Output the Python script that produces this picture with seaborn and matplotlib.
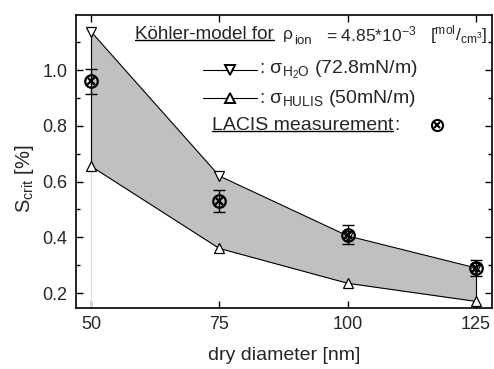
import numpy as np
import pandas as pd
import seaborn as sns
import matplotlib
matplotlib.use("Agg")
from matplotlib import pyplot as plt
from matplotlib.ticker import MultipleLocator, FormatStrFormatter

# Data
diameter = [50, 75, 100, 125]
s_h2o = [1.138, 0.62, 0.405, 0.29]
s_hulis = [0.655, 0.36, 0.235, 0.17]
lacis = [0.96, 0.53, 0.41, 0.29]
lacis_err = [0.045, 0.04, 0.035, 0.03]

sns.set_theme(style="ticks")
plt.rcParams["font.family"] = ["Liberation Sans", "DejaVu Sans"]
plt.rcParams["mathtext.fontset"] = "custom"
plt.rcParams["mathtext.rm"] = "Liberation Sans"
plt.rcParams["mathtext.it"] = "Liberation Sans:italic"

df = pd.DataFrame({"d": diameter, "h2o": s_h2o, "hulis": s_hulis, "lacis": lacis})

fig = plt.figure(figsize=(4.94, 3.69), dpi=100)
ax = fig.add_axes([0.154, 0.165, 0.842, 0.794])

# shaded band between the two Koehler curves
ax.fill_between(df.d, df.hulis, df.h2o, color="#c0c0c0", lw=0, zorder=1)
ax.plot([50, 50], [s_hulis[0], s_h2o[0]], color="black", lw=0.8, zorder=2)
ax.plot([125, 125], [s_hulis[-1], s_h2o[-1]], color="black", lw=0.8, zorder=2)
ax.plot([50, 50], [0.1, s_hulis[0]], color="#dddddd", lw=0.8, zorder=1)

sns.lineplot(data=df, x="d", y="h2o", ax=ax, color="black", lw=0.8,
             marker="v", markersize=7, markerfacecolor="white",
             markeredgecolor="black", markeredgewidth=0.9, zorder=3)
sns.lineplot(data=df, x="d", y="hulis", ax=ax, color="black", lw=0.8,
             marker="^", markersize=7, markerfacecolor="white",
             markeredgecolor="black", markeredgewidth=0.9, zorder=3)

# LACIS measurements
ax.errorbar(df.d, df.lacis, yerr=lacis_err, fmt="none", ecolor="black",
            elinewidth=1.0, capsize=4, capthick=1.0, zorder=4)
ax.plot(df.d, df.lacis, "o", ms=9, mfc="none", mec="black", mew=1.6, zorder=5)
ax.plot(df.d, df.lacis, "x", ms=6, mec="black", mew=1.6, zorder=5)

ax.set_xlim(47.1, 128.1)
ax.set_ylim(0.146, 1.197)
ax.set_xticks(diameter)
ax.yaxis.set_major_locator(MultipleLocator(0.2))
ax.yaxis.set_minor_locator(MultipleLocator(0.1))
ax.yaxis.set_major_formatter(FormatStrFormatter("%.1f"))
ax.tick_params(direction="in", which="both", top=True, right=True,
               labelsize=13, width=1.0, color="black", pad=6)
ax.tick_params(which="major", length=5)
ax.tick_params(which="minor", length=3)
for s in ax.spines.values():
    s.set_linewidth(1.2)
    s.set_color("black")

ax.set_xlabel("dry diameter [nm]", fontsize=14, labelpad=10)
ax.set_ylabel("S$_{\\mathrm{crit}}$ [%]", fontsize=14.5)
ax.yaxis.set_label_coords(-0.097, 0.44)


def px(x):
    # pixel column in the figure -> axes fraction
    return (x - 76) / 416.0


def py(y):
    return (308 - y) / 293.0


# legend block drawn as text
tr = ax.transAxes
t1 = ax.text(px(135), py(34), "Köhler-model for", transform=tr,
             fontsize=13.6, va="center", ha="left")
ax.text(px(283), py(34), "ρ", transform=tr, fontsize=12.5, va="center", ha="left")
ax.text(px(294), py(41), "ion", transform=tr, fontsize=9.5, va="center", ha="left")
ax.text(px(326), py(34), "= 4.85*10$^{-3}$", transform=tr,
        fontsize=12.5, va="center", ha="left")
ax.text(px(487), py(34), "[$^{\\mathrm{mol}}$/$_{\\mathrm{cm^3}}$]", transform=tr,
        fontsize=12.5, va="center", ha="right")

for yy, mk, lab in [(70, "v", ": σ$_{\\mathrm{H_2O}}$ (72.8mN/m)"),
                    (98, "^", ": σ$_{\\mathrm{HULIS}}$ (50mN/m)")]:
    ax.plot([px(203), px(257)], [py(yy), py(yy)], color="black", lw=0.8, transform=tr)
    ax.plot([px(230)], [py(yy)], mk, ms=7, mfc="white", mec="black", mew=1.4,
            transform=tr)
    ax.text(px(259), py(yy), lab, transform=tr, fontsize=14, va="center", ha="left")

t4 = ax.text(px(212), py(125), "LACIS measurement", transform=tr,
             fontsize=14, va="center", ha="left")
fig.canvas.draw()
bb4 = t4.get_window_extent()
ax.text(bb4.x1 + 1, bb4.y0, ":", transform=None, fontsize=14, va="bottom", ha="left")
ax.plot([px(437)], [py(125)], "o", ms=8, mfc="none", mec="black", mew=1.5, transform=tr)
ax.plot([px(437)], [py(125)], "x", ms=5, mec="black", mew=1.5, transform=tr)

# underline the two headings
inv = ax.transAxes.inverted()
for t in (t1, t4):
    bb = t.get_window_extent()
    (x0, y0), (x1, _) = inv.transform([[bb.x0, bb.y0], [bb.x1, bb.y1]])
    ax.plot([x0, x1], [y0 + 0.008, y0 + 0.008], color="black", lw=1.0, transform=tr)

fig.savefig("out.png", dpi=100)
